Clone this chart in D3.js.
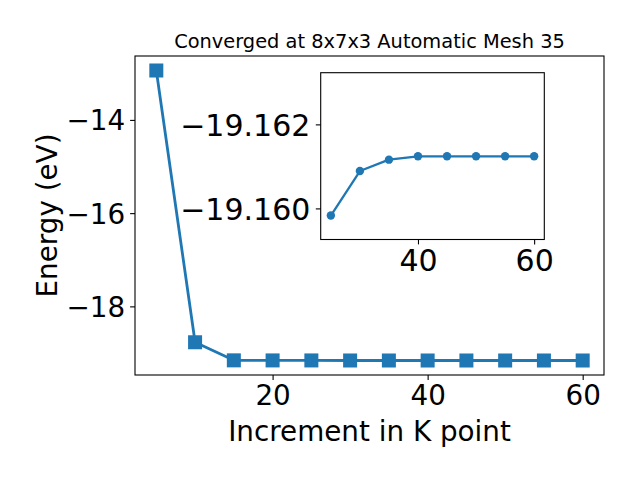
<!DOCTYPE html>
<html>
<head>
<meta charset="utf-8">
<script src="https://cdn.jsdelivr.net/npm/d3@7"></script>
<style>
  html, body { margin: 0; padding: 0; background: #fff; }
  svg { display: block; font-family: "DejaVu Sans", sans-serif; }
</style>
</head>
<body>
<svg id="chart" width="640" height="480"></svg>
<script>
// ---- data ----
const kPoints = [5, 10, 15, 20, 25, 30, 35, 40, 45, 50, 55, 60];
const energies = [-12.94, -18.77, -19.158, -19.1595, -19.15983, -19.16089, -19.16116, -19.16124, -19.16124, -19.16124, -19.16124, -19.16124];
const insetK = [25, 30, 35, 40, 45, 50, 55, 60];
const insetE = [-19.15983, -19.16089, -19.16116, -19.16124, -19.16124, -19.16124, -19.16124, -19.16124];
const xTicks = [20, 40, 60];
const yTicks = [-14, -16, -18];
const insetXTicks = [40, 60];
const insetYTicks = [-19.162, -19.160];
const titleText = "Converged at 8x7x3 Automatic Mesh 35";
const xLabel = "Increment in K point";
const yLabel = "Energy (eV)";

const blue = "#1f77b4";
const svg = d3.select("#chart");
const fmtMinus = s => s.replace("-", "\u2212");

// ---- main axes ----
const M = { left: 135, right: 604, top: 56, bottom: 375 };
const x = d3.scaleLinear().domain([2.25, 62.75]).range([M.left, M.right]);
const yMin = d3.min(energies), yMax = d3.max(energies), yPad = (yMax - yMin) * 0.05;
const y = d3.scaleLinear().domain([yMin - yPad, yMax + yPad]).range([M.bottom, M.top]);

const tickFont = 27.8;
const insetTickFont = 30;

const xAxis = d3.axisBottom(x).tickValues(xTicks).tickSize(4.9).tickPadding(4.9).tickFormat(d => fmtMinus(String(d)));
const gx = svg.append("g").attr("transform", `translate(0,${M.bottom})`).call(xAxis);
const yAxis = d3.axisLeft(y).tickValues(yTicks).tickSize(4.9).tickPadding(4.9).tickFormat(d => fmtMinus(String(d)));
const gy = svg.append("g").attr("transform", `translate(${M.left},0)`).call(yAxis);
[gx, gy].forEach(g => {
  g.select(".domain").remove();
  g.selectAll("line").attr("stroke", "#000").attr("stroke-width", 1.1);
  g.selectAll("text").attr("font-size", tickFont).attr("fill", "#000").attr("font-family", "DejaVu Sans");
});
gx.selectAll("text").attr("dy", "0.73em");
gy.selectAll("text").attr("dy", "0.36em");

// line + markers
const line = d3.line().x((d, i) => x(kPoints[i])).y(d => y(d));
svg.append("path").datum(energies).attr("d", line)
  .attr("fill", "none").attr("stroke", blue).attr("stroke-width", 2.8).attr("stroke-linejoin", "round");
const sq = 14;
svg.append("g").selectAll("rect").data(energies).join("rect")
  .attr("x", (d, i) => x(kPoints[i]) - sq / 2).attr("y", d => y(d) - sq / 2)
  .attr("width", sq).attr("height", sq).attr("fill", blue);

// frame
svg.append("rect").attr("x", M.left).attr("y", M.top)
  .attr("width", M.right - M.left).attr("height", M.bottom - M.top)
  .attr("fill", "none").attr("stroke", "#000").attr("stroke-width", 1.1);

// title and labels
svg.append("text").attr("x", (M.left + M.right) / 2).attr("y", 48)
  .attr("text-anchor", "middle").attr("font-size", 19.4).text(titleText);
svg.append("text").attr("x", (M.left + M.right) / 2).attr("y", 441)
  .attr("text-anchor", "middle").attr("font-size", 27.8).text(xLabel);
svg.append("text").attr("transform", `translate(57,${(M.top + M.bottom) / 2}) rotate(-90)`)
  .attr("text-anchor", "middle").attr("font-size", 27.8).text(yLabel);

// ---- inset axes ----
const I = { left: 320.7, right: 544.3, top: 72.7, bottom: 239.5 };
const xi = d3.scaleLinear().domain([23.25, 61.75]).range([I.left, I.right]);
const yi = d3.scaleLinear().domain([-19.16323, -19.15926]).range([I.top, I.bottom]);

svg.append("rect").attr("x", I.left).attr("y", I.top)
  .attr("width", I.right - I.left).attr("height", I.bottom - I.top)
  .attr("fill", "#fff").attr("stroke", "none");

const gxi = svg.append("g").attr("transform", `translate(0,${I.bottom})`)
  .call(d3.axisBottom(xi).tickValues(insetXTicks).tickSize(4.9).tickPadding(4.9).tickFormat(d => String(d)));
const gyi = svg.append("g").attr("transform", `translate(${I.left},0)`)
  .call(d3.axisLeft(yi).tickValues(insetYTicks).tickSize(4.9).tickPadding(5.5).tickFormat(d => fmtMinus(d3.format(".3f")(d))));
[gxi, gyi].forEach(g => {
  g.select(".domain").remove();
  g.selectAll("line").attr("stroke", "#000").attr("stroke-width", 1.1);
  g.selectAll("text").attr("font-size", insetTickFont).attr("fill", "#000").attr("font-family", "DejaVu Sans");
});
gxi.selectAll("text").attr("dy", "0.73em");
gyi.selectAll("text").attr("dy", "0.36em");

const lineI = d3.line().x((d, i) => xi(insetK[i])).y(d => yi(d));
svg.append("path").datum(insetE).attr("d", lineI)
  .attr("fill", "none").attr("stroke", blue).attr("stroke-width", 2.3).attr("stroke-linejoin", "round");
svg.append("g").selectAll("circle").data(insetE).join("circle")
  .attr("cx", (d, i) => xi(insetK[i])).attr("cy", d => yi(d)).attr("r", 4.2).attr("fill", blue);

svg.append("rect").attr("x", I.left).attr("y", I.top)
  .attr("width", I.right - I.left).attr("height", I.bottom - I.top)
  .attr("fill", "none").attr("stroke", "#000").attr("stroke-width", 1.1);
</script>
</body>
</html>
